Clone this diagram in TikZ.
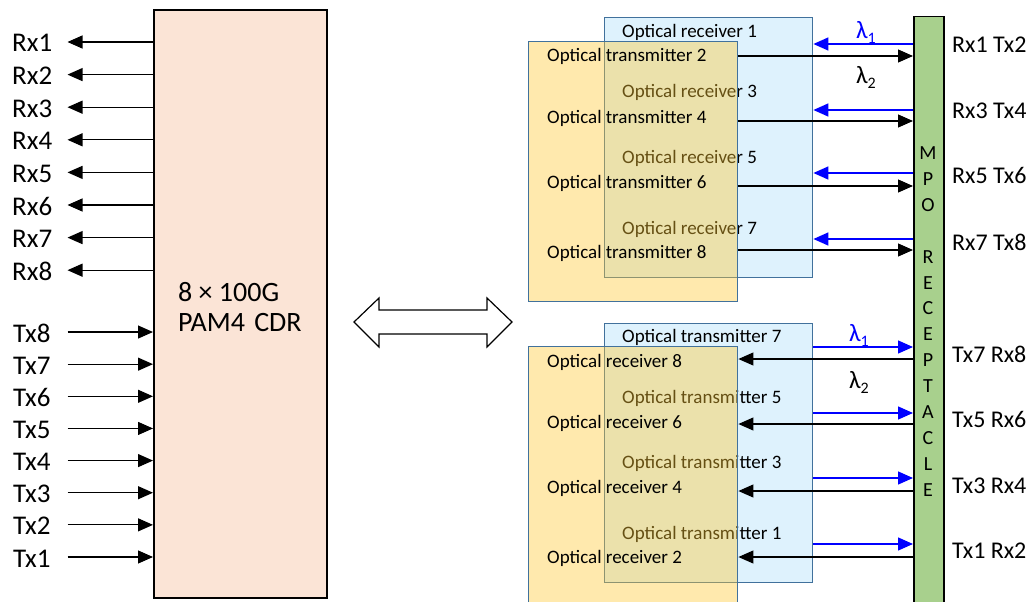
\documentclass[tikz,border=0pt]{standalone}
\usepackage{fontspec}
\setmainfont{Carlito}
\usetikzlibrary{arrows.meta}
\definecolor{peach}{RGB}{251,228,214}
\definecolor{lblue}{RGB}{222,242,253}
\definecolor{gold}{RGB}{255,200,50}
\definecolor{steel}{RGB}{65,113,156}
\definecolor{mgreen}{RGB}{168,208,141}
\definecolor{pblue}{RGB}{0,0,255}
\begin{document}
\begin{tikzpicture}[x=1pt,y=-1pt,
  arr/.style={-{Triangle[length=15pt,width=13pt]}, line width=1.1pt, draw=black},
  barr/.style={-{Triangle[length=15pt,width=13pt]}, line width=1.4pt, draw=pblue, fill=pblue},
  lbl/.style={font=\fontsize{27}{27}\selectfont, inner sep=0pt, text height=20pt, text depth=0pt, anchor=west},
  rlbl/.style={font=\fontsize{24}{24}\selectfont, inner sep=0pt, anchor=base west},
  ot/.style={font=\fontsize{19}{19}\selectfont, inner sep=0pt, anchor=base west},
  bluebox/.style={draw=steel, fill=lblue, line width=1.4pt, inner sep=0pt, anchor=north west, minimum width=208pt},
  goldbox/.style={draw=steel, fill=gold, fill opacity=0.4, draw opacity=1, line width=1.4pt, inner sep=0pt, anchor=north west, minimum width=209pt},
  lam/.style={font=\fontsize{25}{25}\selectfont, inner sep=0pt},
  mpol/.style={font=\fontsize{20}{20}\selectfont, inner sep=0pt, anchor=base}
]
\useasboundingbox (0,0) rectangle (1029,602);
\clip (0,0) rectangle (1029,602);

% CDR block
\node[draw=black, fill=peach, line width=1.8pt, inner sep=0pt, anchor=north west,
      minimum width=173pt, minimum height=588pt] (cdr) at (153,9) {};
\node[font=\fontsize{28}{30}\selectfont, align=left, inner sep=0pt, anchor=west] (cdrtxt) at (178,307) {8 × 100G\\PAM4\hspace{3pt} CDR};

\coordinate (tipx) at (67.5,0);
\foreach \i in {1,...,8}{
  \node[lbl] (rx\i) at (12,{42+(\i-1)*32.6}) {Rx\i};
  \draw[arr] (cdr.west |- rx\i) -- (rx\i -| tipx);
}
\foreach \i in {1,...,8}{
  \node[lbl] (tx\i) at (13,{557-(\i-1)*32.14}) {Tx\i};
  \draw[arr] (tx\i -| tipx) -- (cdr.west |- tx\i);
}

% double arrow
\draw[line width=1.2pt, fill=white, line join=miter]
  (354,322) -- (379,298) -- (379,310) -- (487,310) -- (487,298) -- (512,322)
  -- (487,347) -- (487,334) -- (379,334) -- (379,347) -- cycle;

% MPO receptacle
\node[draw=black, fill=mgreen, line width=1.5pt, inner sep=0pt, anchor=north west,
      minimum width=30pt, minimum height=620pt] (mpo) at (913,16) {};
\foreach \ch [count=\i] in {M,P,O,{},R,E,C,E,P,T,A,C,L,E}
  \node[mpol] (mpo\i) at (928,{159.5+(\i-1)*25.9}) {\ch};

% ---------- top group ----------
\node[bluebox, minimum height=260pt] (b1) at (604,17) {};
\foreach \n/\y in {1/38,3/98,5/163,7/234}
  \node[ot] (rcvT\n) at (622,\y) {Optical receiver \n};
\node[goldbox, minimum height=260pt] (o1) at (528,41) {};
\foreach \n/\y in {2/62,4/123,6/188,8/258}
  \node[ot] (trT\n) at (547,\y) {Optical transmitter \n};

\foreach \yb/\yk in {44/56,110/121,173/186,239/250}{
  \coordinate (yb) at (0,\yb);
  \coordinate (yk) at (0,\yk);
  \draw[barr] (mpo.west |- yb) -- (b1.east |- yb);
  \draw[arr] (o1.east |- yk) -- (mpo.west |- yk);
}
\node[lam, text=pblue] (l1t) at (866,32) {λ\raisebox{-5pt}{\fontsize{16}{16}\selectfont 1}};
\node[lam] (l2t) at (866,77) {λ\raisebox{-5pt}{\fontsize{16}{16}\selectfont 2}};

\node[rlbl] (p1) at (952,53) {Rx1 Tx2};
\node[rlbl] (p2) at (952,118) {Rx3 Tx4};
\node[rlbl] (p3) at (952,183) {Rx5 Tx6};
\node[rlbl] (p4) at (952,250) {Rx7 Tx8};

% ---------- bottom group ----------
\node[bluebox, minimum height=259pt] (b2) at (604,323) {};
\foreach \n/\y in {7/342,5/403,3/468,1/539}
  \node[ot] (trB\n) at (622,\y) {Optical transmitter \n};
\node[goldbox, minimum height=300pt] (o2) at (528,346) {};
\foreach \n/\y in {8/367,6/428,4/493,2/563}
  \node[ot] (rcvB\n) at (547,\y) {Optical receiver \n};

\foreach \yb/\yk in {347/359,413/424,478/491,544/557}{
  \coordinate (yb) at (0,\yb);
  \coordinate (yk) at (0,\yk);
  \draw[barr] (b2.east |- yb) -- (mpo.west |- yb);
  \draw[arr] (mpo.west |- yk) -- (o2.east |- yk);
}
\node[lam, text=pblue] (l1b) at (859,335) {λ\raisebox{-5pt}{\fontsize{16}{16}\selectfont 1}};
\node[lam] (l2b) at (859,382) {λ\raisebox{-5pt}{\fontsize{16}{16}\selectfont 2}};

\node[rlbl] (q1) at (952,362) {Tx7 Rx8};
\node[rlbl] (q2) at (952,427) {Tx5 Rx6};
\node[rlbl] (q3) at (952,493) {Tx3 Rx4};
\node[rlbl] (q4) at (952,558) {Tx1 Rx2};
\end{tikzpicture}
\end{document}
